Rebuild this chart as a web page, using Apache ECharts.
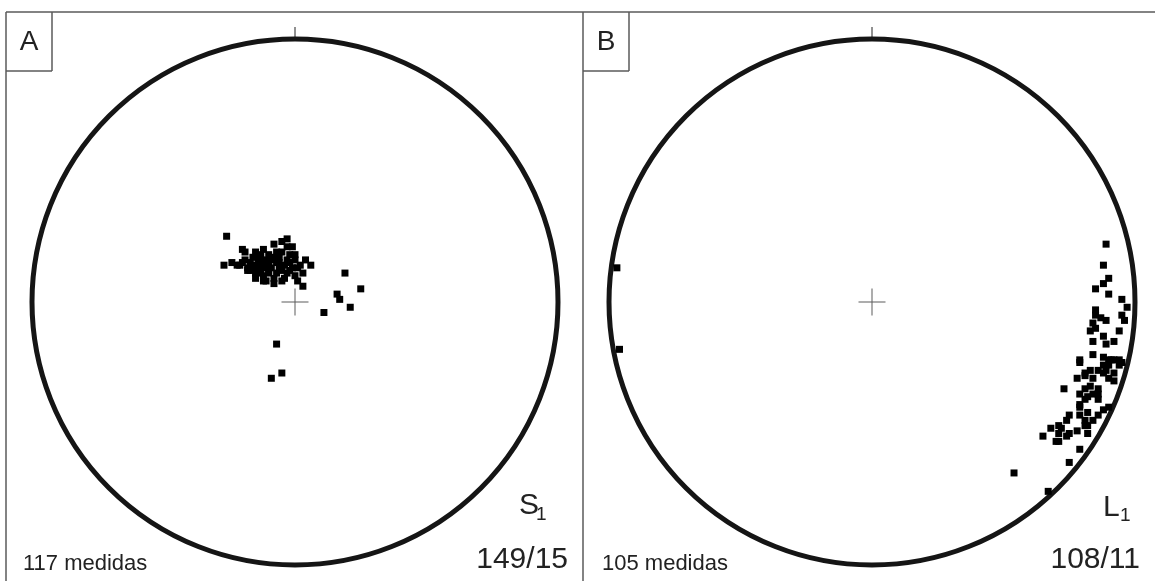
<!DOCTYPE html>
<html>
<head>
<meta charset="utf-8">
<script src="https://cdn.jsdelivr.net/npm/echarts@6/dist/echarts.min.js"></script>
<style>html,body{margin:0;padding:0;background:#fff}#c{width:1155px;height:581px}</style>
</head>
<body>
<div id="c"></div>
<script>
// Projected positions in the stereonet (east, north), unit circle radius = 1
const polesS1 = [
  [-0.26,0.25],[-0.27,0.14],[-0.20,0.20],[-0.19,0.19],[-0.12,0.20],[-0.08,0.22],[-0.05,0.23],[-0.03,0.24],
  [-0.03,0.21],[-0.05,0.19],[-0.02,0.18],[-0.16,0.17],[-0.13,0.16],[-0.11,0.16],[-0.08,0.17],[-0.07,0.15],
  [-0.03,0.16],[0.00,0.16],[0.04,0.16],[0.06,0.14],[-0.20,0.15],[-0.22,0.14],[-0.18,0.13],[-0.15,0.14],
  [-0.12,0.13],[-0.10,0.14],[-0.06,0.13],[-0.04,0.14],[-0.01,0.13],[0.01,0.13],[-0.15,0.11],[-0.13,0.11],
  [-0.10,0.11],[-0.07,0.11],[-0.03,0.11],[0.00,0.10],[0.03,0.11],[-0.15,0.09],[-0.11,0.08],[-0.05,0.08],
  [0.01,0.08],[0.03,0.06],[-0.17,0.15],[-0.14,0.15],[-0.11,0.15],[-0.10,0.12],[-0.13,0.18],[-0.15,0.19],
  [-0.06,0.17],[-0.05,0.12],[-0.21,0.14],[-0.18,0.12],[-0.24,0.15],[0.00,0.18],[-0.01,0.21],
  [-0.17,0.12],[-0.14,0.12],[-0.12,0.10],[-0.09,0.13],[-0.08,0.09],[-0.06,0.15],[-0.02,0.12],[-0.04,0.09],
  [-0.19,0.16],[-0.16,0.13],[-0.13,0.14],[-0.09,0.16],[-0.14,0.17],[-0.10,0.18],[-0.07,0.19],[-0.02,0.15],
  [0.02,0.14],[-0.12,0.08],[-0.08,0.07],
  [0.19,0.11],[0.25,0.05],[0.16,0.03],[0.17,0.01],[0.21,-0.02],[0.11,-0.04],
  [-0.07,-0.16],[-0.05,-0.27],[-0.09,-0.29]
];
const linesL1 = [
  [0.89,0.22],[0.88,0.14],[0.90,0.09],[0.88,0.07],[0.85,0.05],[0.90,0.03],[0.95,0.01],[0.97,-0.02],
  [0.85,-0.03],[0.85,-0.05],[0.95,-0.05],[0.87,-0.06],[0.89,-0.07],[0.96,-0.07],[0.84,-0.08],[0.85,-0.10],
  [0.94,-0.11],[0.83,-0.11],[0.88,-0.13],[0.84,-0.15],[0.89,-0.16],[0.92,-0.15],[0.84,-0.20],[0.88,-0.21],
  [0.79,-0.22],[0.79,-0.23],[0.90,-0.22],[0.91,-0.22],[0.92,-0.22],[0.94,-0.22],[0.95,-0.23],[0.88,-0.24],
  [0.90,-0.24],[0.94,-0.24],[0.89,-0.26],[0.86,-0.26],[0.83,-0.26],[0.81,-0.27],[0.81,-0.28],[0.88,-0.27],
  [0.92,-0.27],[0.84,-0.29],[0.78,-0.29],[0.90,-0.29],[0.92,-0.30],[0.73,-0.33],[0.81,-0.33],[0.83,-0.32],
  [0.86,-0.33],[0.79,-0.35],[0.82,-0.36],[0.84,-0.35],[0.86,-0.35],[0.86,-0.37],[0.81,-0.37],[0.79,-0.39],
  [0.79,-0.40],[0.88,-0.41],[0.90,-0.40],[0.86,-0.43],[0.82,-0.42],[0.79,-0.43],[0.75,-0.43],[0.74,-0.45],
  [0.81,-0.45],[0.84,-0.45],[0.81,-0.47],[0.71,-0.47],[0.68,-0.48],[0.72,-0.48],[0.82,-0.47],[0.71,-0.50],
  [0.78,-0.49],[0.82,-0.50],[0.65,-0.51],[0.71,-0.53],[0.74,-0.51],[0.75,-0.50],[0.70,-0.53],[0.79,-0.56],
  [0.75,-0.61],[0.54,-0.65],[0.67,-0.72],[-0.97,0.13],[-0.96,-0.18]
];
const panelLabels = ['A', 'B'];
const countLabels = ['117 medidas', '105 medidas'];
const meanLabels = ['149/15', '108/11'];
const fabricLetters = ['S', 'L'];
const fabricSubs = ['1', '1'];
const centerPoint = [[0, 0]];

const FONT = '"Liberation Sans", Arial, sans-serif';
const C1 = [295, 302], C2 = [872, 302], R = 263;
const crossPath = 'path://M13,0L14,0L14,13L27,13L27,14L14,14L14,27L13,27L13,14L0,14L0,13L13,13Z';

const chart = echarts.init(document.getElementById('c'));
function angleAx(i){return {polarIndex:i,type:'value',min:0,max:360,interval:360,startAngle:90,
  axisLine:{lineStyle:{color:'#151515',width:5}},axisTick:{show:true,length:12,lineStyle:{color:'#222',width:1}},
  axisLabel:{show:false},splitLine:{show:false}};}
function radAx(i){return {polarIndex:i,type:'value',min:0,max:1,show:false,axisLine:{show:false},splitLine:{show:false},axisTick:{show:false},axisLabel:{show:false}};}
function txt(x,y,t,size,align){return {type:'text',style:{x:x,y:y,text:t,font:size+'px '+FONT,fill:'#222',align:align,verticalAlign:'middle'},z:10};}
function ln(x1,y1,x2,y2){return {type:'line',shape:{x1:x1,y1:y1,x2:x2,y2:y2},style:{stroke:'#5a5a5a',lineWidth:1.5},z:5};}

chart.setOption({
  animation:false,
  backgroundColor:'#fff',
  polar:[{center:C1,radius:R},{center:C2,radius:R}],
  angleAxis:[angleAx(0),angleAx(1)],
  radiusAxis:[radAx(0),radAx(1)],
  grid:[{left:C1[0]-R,top:C1[1]-R,width:2*R,height:2*R},{left:C2[0]-R,top:C2[1]-R,width:2*R,height:2*R}],
  xAxis:[0,1].map(i=>({gridIndex:i,type:'value',min:-1,max:1,show:false,splitLine:{show:false}})),
  yAxis:[0,1].map(i=>({gridIndex:i,type:'value',min:-1,max:1,show:false,splitLine:{show:false}})),
  series:[
    {type:'scatter',xAxisIndex:0,yAxisIndex:0,data:polesS1,symbol:'rect',symbolSize:7,itemStyle:{color:'#000',opacity:1}},
    {type:'scatter',xAxisIndex:1,yAxisIndex:1,data:linesL1,symbol:'rect',symbolSize:7,itemStyle:{color:'#000',opacity:1}},
    {type:'scatter',xAxisIndex:0,yAxisIndex:0,data:centerPoint,symbol:crossPath,symbolSize:27,itemStyle:{color:'#333'}},
    {type:'scatter',xAxisIndex:1,yAxisIndex:1,data:centerPoint,symbol:crossPath,symbolSize:27,itemStyle:{color:'#333'}}
  ],
  graphic:[
    ln(6,12,1155,12), ln(6,12,6,581), ln(583,12,583,581),
    ln(6,71,52,71), ln(52,12,52,71), ln(583,71,629,71), ln(629,12,629,71),
    txt(29,42,panelLabels[0],28,'center'), txt(606,42,panelLabels[1],28,'center'),
    txt(23,564,countLabels[0],22,'left'), txt(602,564,countLabels[1],22,'left'),
    txt(568,560,meanLabels[0],30,'right'), txt(1140,560,meanLabels[1],30,'right'),
    txt(519,506,fabricLetters[0],30,'left'), txt(536,515,fabricSubs[0],19,'left'),
    txt(1103,508,fabricLetters[1],30,'left'), txt(1120,516,fabricSubs[1],19,'left')
  ]
});
</script>
</body>
</html>
